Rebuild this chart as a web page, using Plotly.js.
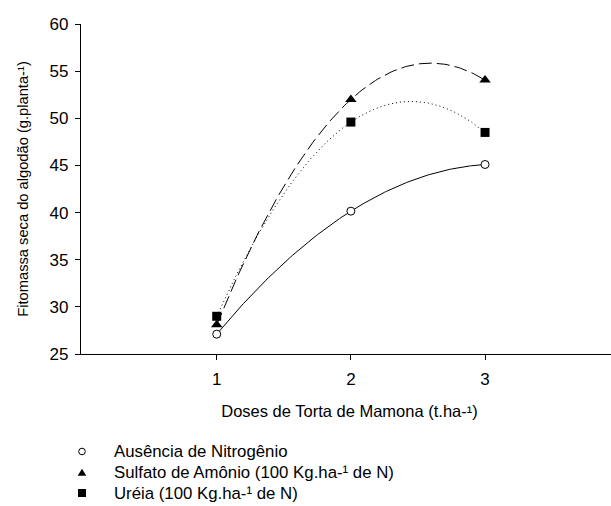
<!DOCTYPE html>
<html>
<head>
<meta charset="utf-8">
<script src="https://cdn.plot.ly/plotly-3.0.1.min.js"></script>
<style>
html,body{margin:0;padding:0;overflow:hidden;background:#fff;}
#chart{width:622px;height:506px;}
</style>
</head>
<body>
<div id="chart"></div>
<script>
// ---- data ----
var doses = [1, 2, 3];
var ausencia = [27.1, 40.15, 45.1];
var sulfato = [28.1, 52.0, 54.05];
var ureia = [29.0, 49.6, 48.5];
var seriesNames = [
  'Ausência de Nitrogênio',
  'Sulfato de Amônio (100 Kg.ha-¹ de N)',
  'Uréia (100 Kg.ha-¹ de N)'
];
var yTicks = [25, 30, 35, 40, 45, 50, 55, 60];
var xTicks = [1, 2, 3];

// quadratic least-squares regression (trend line as in the original figure)
function quadFit(xs, ys) {
  var S = [0,0,0,0,0], T = [0,0,0];
  for (var i = 0; i < xs.length; i++) {
    var p = 1;
    for (var k = 0; k < 5; k++) { S[k] += p; if (k < 3) T[k] += p * ys[i]; p *= xs[i]; }
  }
  var A = [[S[0],S[1],S[2],T[0]],[S[1],S[2],S[3],T[1]],[S[2],S[3],S[4],T[2]]];
  for (var c = 0; c < 3; c++) {
    var piv = c;
    for (var r = c+1; r < 3; r++) if (Math.abs(A[r][c]) > Math.abs(A[piv][c])) piv = r;
    var tmp = A[c]; A[c] = A[piv]; A[piv] = tmp;
    for (var r2 = 0; r2 < 3; r2++) {
      if (r2 === c) continue;
      var f = A[r2][c] / A[c][c];
      for (var j = c; j < 4; j++) A[r2][j] -= f * A[c][j];
    }
  }
  return [A[0][3]/A[0][0], A[1][3]/A[1][1], A[2][3]/A[2][2]];
}
function fitCurve(xs, ys) {
  var b = quadFit(xs, ys), cx = [], cy = [];
  var lo = Math.min.apply(null, xs), hi = Math.max.apply(null, xs), n = 120;
  for (var i = 0; i <= n; i++) {
    var x = lo + (hi - lo) * i / n;
    cx.push(x); cy.push(b[0] + b[1]*x + b[2]*x*x);
  }
  return {x: cx, y: cy};
}

var FONT = 'Liberation Sans, Arial, Helvetica, sans-serif';
var cA = fitCurve(doses, ausencia), cS = fitCurve(doses, sulfato), cU = fitCurve(doses, ureia);

var traces = [
  {x: cS.x, y: cS.y, mode: 'lines', line: {color: '#000', width: 1, dash: '13px,5px'}, showlegend: false, hoverinfo: 'skip'},
  {x: cU.x, y: cU.y, mode: 'lines', line: {color: '#000', width: 1, dash: '1px,3px'}, showlegend: false, hoverinfo: 'skip'},
  {x: cA.x, y: cA.y, mode: 'lines', line: {color: '#000', width: 1}, showlegend: false, hoverinfo: 'skip'},
  {x: doses, y: ureia, name: seriesNames[2], mode: 'markers', marker: {symbol: 'square', size: 9, color: '#000'}},
  {x: doses, y: sulfato, name: seriesNames[1], mode: 'markers', marker: {symbol: 'triangle-up', size: 10, color: '#000'}},
  {x: doses, y: ausencia, name: seriesNames[0], mode: 'markers', marker: {symbol: 'circle', size: 8, color: '#fff', line: {color: '#000', width: 1}}}
];

// manual legend (compact, symbols only, as in the reference)
var W = 622, H = 506, ML = 81, MR = 4, MT = 24, MB = 152;
var PW = W - ML - MR, PH = H - MT - MB;
function px2x(px) { return (px - ML) / PW; }
function px2y(py) { return (H - MB - py) / PH; }
var legY = [451.5, 472.5, 493];
var legSymX = 82, legTextX = 112;
var shapes = [
  {type: 'circle', xref: 'paper', yref: 'paper', xsizemode: 'pixel', ysizemode: 'pixel',
   xanchor: px2x(legSymX), yanchor: px2y(legY[0]), x0: -3.3, x1: 3.3, y0: -3.3, y1: 3.3,
   line: {color: '#000', width: 1}, fillcolor: '#fff'},
  {type: 'path', xref: 'paper', yref: 'paper', xsizemode: 'pixel', ysizemode: 'pixel',
   xanchor: px2x(legSymX), yanchor: px2y(legY[1]), path: 'M-4.3,-3.3 L4.3,-3.3 L0,3.8 Z',
   line: {width: 0}, fillcolor: '#000'},
  {type: 'rect', xref: 'paper', yref: 'paper', xsizemode: 'pixel', ysizemode: 'pixel',
   xanchor: px2x(legSymX), yanchor: px2y(legY[2]), x0: -4, x1: 4, y0: -4, y1: 4,
   line: {width: 0}, fillcolor: '#000'}
];
var annotations = seriesNames.map(function (t, i) {
  return {text: t, xref: 'paper', yref: 'paper', x: px2x(legTextX), y: px2y(legY[i]),
          xanchor: 'left', yanchor: 'middle', showarrow: false,
          font: {family: FONT, size: 16.8, color: '#000'}};
});

var layout = {
  width: W, height: H,
  margin: {l: ML, r: MR, t: MT, b: MB, pad: 0},
  paper_bgcolor: '#fff', plot_bgcolor: '#fff',
  showlegend: false,
  font: {family: FONT, color: '#000'},
  xaxis: {
    range: [-0.0116, 3.991], tickvals: xTicks, ticktext: xTicks.map(String),
    showgrid: false, zeroline: false, showline: true, linecolor: '#000', linewidth: 1.2,
    ticks: 'outside', ticklen: 5, tickwidth: 1, tickcolor: '#000', ticklabelstandoff: 4,
    tickfont: {family: FONT, size: 17, color: '#000'},
    title: {text: 'Doses de Torta de Mamona (t.ha-¹)', font: {family: FONT, size: 16.5, color: '#000'}, standoff: 17},
    automargin: false, fixedrange: true
  },
  yaxis: {
    range: [25, 60], tickvals: yTicks, ticktext: yTicks.map(String),
    showgrid: false, zeroline: false, showline: true, linecolor: '#000', linewidth: 1.2,
    ticks: 'outside', ticklen: 5, tickwidth: 1, tickcolor: '#000', ticklabelstandoff: 3,
    tickfont: {family: FONT, size: 17, color: '#000'},
    title: {text: 'Fitomassa seca do algodão (g.planta-¹)', font: {family: FONT, size: 14.7, color: '#000'}, standoff: 17},
    automargin: false, fixedrange: true
  },
  shapes: shapes,
  annotations: annotations
};

Plotly.newPlot('chart', traces, layout, {displayModeBar: false, staticPlot: true});
</script>
</body>
</html>
